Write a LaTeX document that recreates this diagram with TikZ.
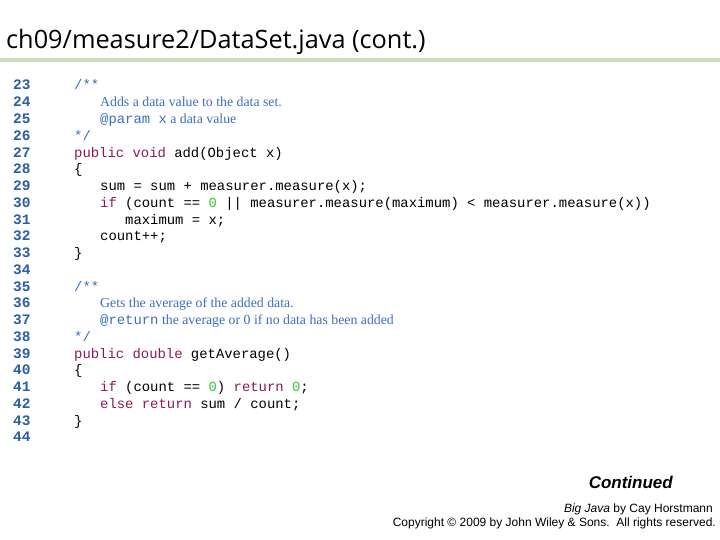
\documentclass[tikz,border=0pt]{standalone}
\usepackage{fontspec}
\setmainfont{Liberation Serif}
\newfontfamily\titlefont{Open Sans}
\newfontfamily\codefont{Liberation Mono}
\newfontfamily\arialfont{Liberation Sans}
\definecolor{lnblue}{HTML}{2A5DA8}
\definecolor{cmblue}{HTML}{3A6FC0}
\definecolor{kwred}{HTML}{8B1A5A}
\definecolor{numgreen}{HTML}{33CC33}
\definecolor{rulegreen}{HTML}{C5E0B4}
\newcommand{\kw}[1]{\textcolor{kwred}{#1}}
\newcommand{\nm}[1]{\textcolor{numgreen}{#1}}
\begin{document}
\begin{tikzpicture}[x=1pt,y=-1pt,
  lnum/.style={anchor=base west,inner sep=0pt,font=\codefont\bfseries\fontsize{14.5}{15}\selectfont,text=lnblue},
  codeline/.style={anchor=base west,inner sep=0pt,font=\codefont\fontsize{13.9}{14}\selectfont},
  commline/.style={anchor=base west,inner sep=0pt,font=\fontsize{13.8}{14}\selectfont,text=cmblue}]
\useasboundingbox (0,0) rectangle (720,540);
\fill[white] (0,0) rectangle (720,540);
\node[anchor=base west,inner sep=0pt,font=\titlefont\fontsize{25.3}{26}\selectfont] (title) at (6,49) {ch09/measure2/DataSet.java (cont.)};
\fill[rulegreen] (0,58) rectangle (720,62);
\foreach \n [count=\i from 0] in {23,...,44}
  \node[lnum] (n\n) at (13,{90+\i*16.76}) {\n};
\node[codeline,text=cmblue] (l23) at (74,90) {/**};
\node[commline] (l24) at (100,106.76) {Adds a data value to the data set.};
\node[commline] (l25) at (100,123.52) {{\codefont\fontsize{13.9}{14}\selectfont @param x} a data value};
\node[codeline,text=cmblue] (l26) at (74,140.28) {*/};
\node[codeline] (l27) at (74,157.04) {\kw{public void} add(Object x)};
\node[codeline] (l28) at (74,173.8) {\{};
\node[codeline] (l29) at (100,190.56) {sum = sum + measurer.measure(x);};
\node[codeline] (l30) at (100,207.32) {\kw{if} (count == \nm{0} || measurer.measure(maximum) < measurer.measure(x))};
\node[codeline] (l31) at (125,224.08) {maximum = x;};
\node[codeline] (l32) at (100,240.84) {count++;};
\node[codeline] (l33) at (74,257.6) {\}};
\node[codeline,text=cmblue] (l35) at (74,291.12) {/**};
\node[commline] (l36) at (100,307.88) {Gets the average of the added data.};
\node[commline] (l37) at (100,324.64) {{\codefont\fontsize{13.9}{14}\selectfont @return} the average or 0 if no data has been added};
\node[codeline,text=cmblue] (l38) at (74,341.4) {*/};
\node[codeline] (l39) at (74,358.16) {\kw{public double} getAverage()};
\node[codeline] (l40) at (74,374.92) {\{};
\node[codeline] (l41) at (100,391.68) {\kw{if} (count == \nm{0}) \kw{return} \nm{0};};
\node[codeline] (l42) at (100,408.44) {\kw{else return} sum / count;};
\node[codeline] (l43) at (74,425.2) {\}};
\node[anchor=base east,inner sep=0pt,font=\arialfont\bfseries\itshape\fontsize{17}{18}\selectfont] (cont) at (673,488) {Continued};
\node[anchor=base east,inner sep=0pt,font=\arialfont\fontsize{12}{13}\selectfont] (bj) at (713,512) {\textit{Big Java} by Cay Horstmann};
\node[anchor=base east,inner sep=0pt,font=\arialfont\fontsize{12}{13}\selectfont] (cp) at (716,526) {Copyright \textcopyright\ 2009 by John Wiley \& Sons.\ \ All rights reserved.};
\end{tikzpicture}
\end{document}
